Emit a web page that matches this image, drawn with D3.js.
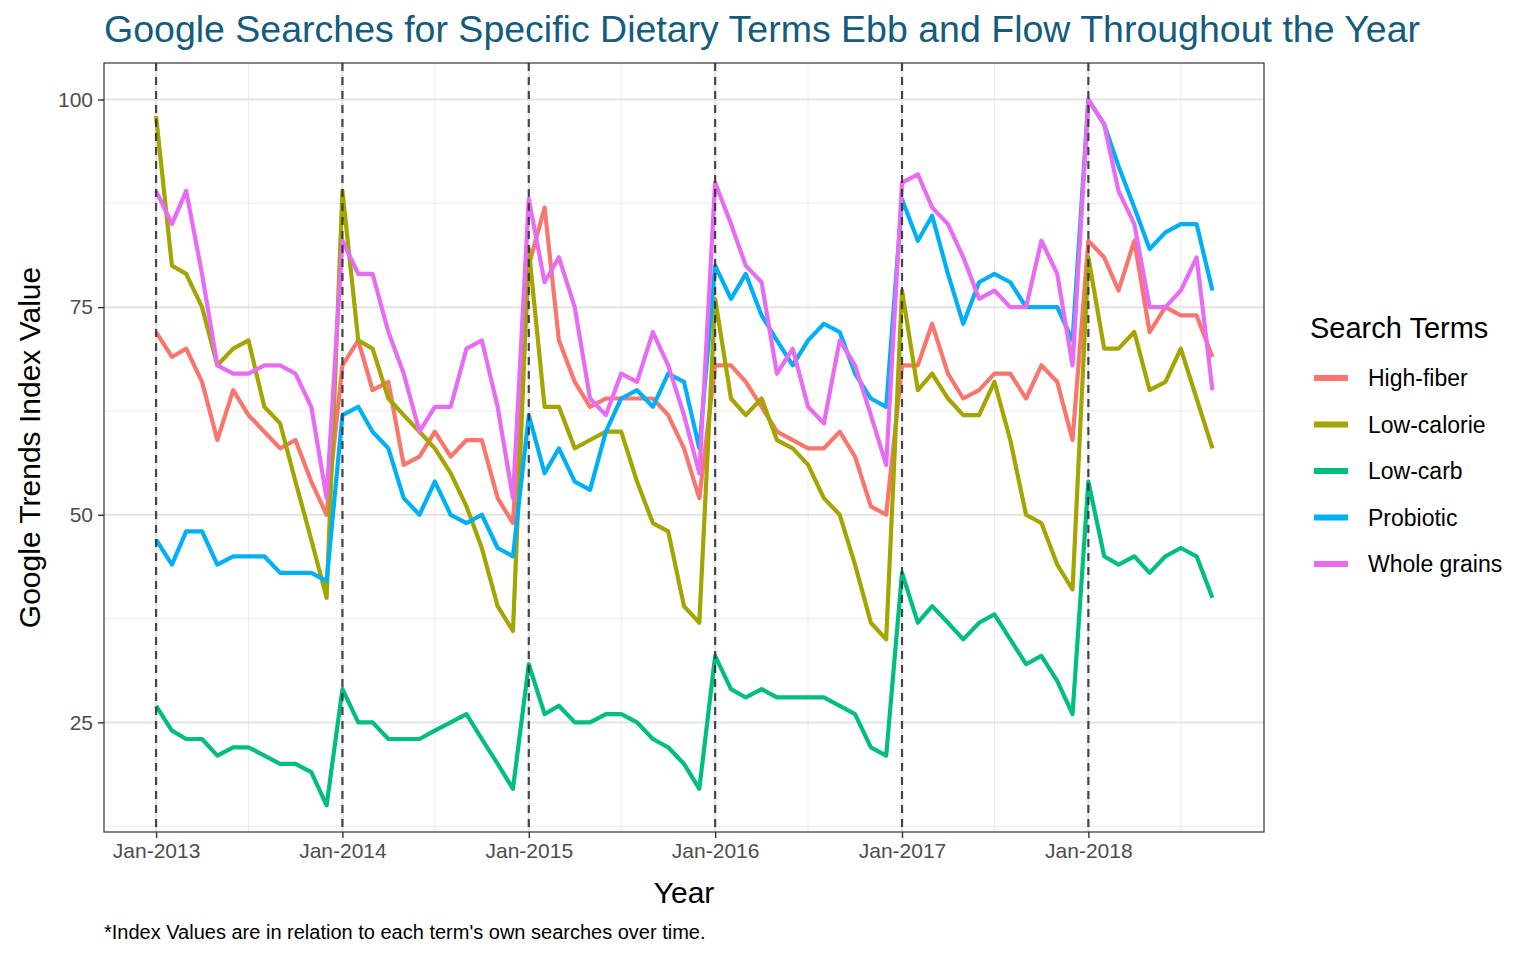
<!DOCTYPE html>
<html><head><meta charset="utf-8">
<script src="https://cdn.jsdelivr.net/npm/d3@7"></script>
<style>body{margin:0;background:#fff;font-family:"Liberation Sans",Arial,sans-serif;}</style>
</head><body><div id="chart"></div>
<script>
// monthly values Jan-2013 .. Sep-2018
const highFiber = [72,69,70,66,59,65,62,60,58,59,54,50, 68,71,65,66,56,57,60,57,59,59,52,49, 80,87,71,66,63,64,64,64,64,62,58,52, 68,68,66,63,60,59,58,58,60,57,51,50, 68,68,73,67,64,65,67,67,64,68,66,59, 83,81,77,83,72,75,74,74,69];
const lowCalorie = [98,80,79,75,68,70,71,63,61,54,47,40, 89,71,70,64,62,60,58,55,51,46,39,36, 82,63,63,58,59,60,60,54,49,48,39,37, 76,64,62,64,59,58,56,52,50,44,37,35, 77,65,67,64,62,62,66,59,50,49,44,41, 81,70,70,72,65,66,70,64,58];
const lowCarb = [27,24,23,23,21,22,22,21,20,20,19,15, 29,25,25,23,23,23,24,25,26,23,20,17, 32,26,27,25,25,26,26,25,23,22,20,17, 33,29,28,29,28,28,28,28,27,26,22,21, 43,37,39,37,35,37,38,35,32,33,30,26, 54,45,44,45,43,45,46,45,40];
const probiotic = [47,44,48,48,44,45,45,45,43,43,43,42, 62,63,60,58,52,50,54,50,49,50,46,45, 62,55,58,54,53,60,64,65,63,67,66,58, 80,76,79,74,71,68,71,73,72,67,64,63, 88,83,86,79,73,78,79,78,75,75,75,71, 100,97,92,87,82,84,85,85,77];
const wholeGrains = [89,85,89,79,68,67,67,68,68,67,63,52, 83,79,79,72,67,60,63,63,70,71,63,52, 88,78,81,75,64,62,67,66,72,68,62,55, 90,85,80,78,67,70,63,61,71,68,62,56, 90,91,87,85,81,76,77,75,75,83,79,68, 100,97,89,85,75,75,77,81,65];
const terms = ["High-fiber","Low-calorie","Low-carb","Probiotic","Whole grains"];
const colors = ["#F8766D","#A3A500","#00BF7D","#00B0F6","#E76BF3"];
const yTicks = [25,50,75,100];
const yearTicks = [2013,2014,2015,2016,2017,2018];

const seriesValues = [highFiber, lowCalorie, lowCarb, probiotic, wholeGrains];
const months = d3.range(highFiber.length).map(i => new Date(2013, i, 1));

const W = 1536, H = 960;
const m = {left:104, right:272, top:63, bottom:128};
const svg = d3.select("#chart").append("svg").attr("width", W).attr("height", H);

const x = d3.scaleTime()
    .domain([new Date(2012, 8, 21), new Date(2018, 11, 11)])
    .range([m.left, W - m.right]);
const y = d3.scaleLinear().domain([11.8, 104.4]).range([H - m.bottom, m.top]);

const g = svg.append("g");
// minor grid
const minorY = [12.5, 37.5, 62.5, 87.5];
g.selectAll(".my").data(minorY).join("line")
    .attr("x1", m.left).attr("x2", W - m.right)
    .attr("y1", d => y(d)).attr("y2", d => y(d))
    .attr("stroke", "#ebebeb").attr("stroke-width", 1);
const minorX = yearTicks.map(yr => new Date(yr, 6, 1));
g.selectAll(".mx").data(minorX).join("line")
    .attr("x1", d => x(d)).attr("x2", d => x(d))
    .attr("y1", m.top).attr("y2", H - m.bottom)
    .attr("stroke", "#ebebeb").attr("stroke-width", 1);
// major grid
g.selectAll(".gy").data(yTicks).join("line")
    .attr("x1", m.left).attr("x2", W - m.right)
    .attr("y1", d => y(d)).attr("y2", d => y(d))
    .attr("stroke", "#e3e3e3").attr("stroke-width", 2);
g.selectAll(".gx").data(yearTicks).join("line")
    .attr("x1", d => x(new Date(d,0,1))).attr("x2", d => x(new Date(d,0,1)))
    .attr("y1", m.top).attr("y2", H - m.bottom)
    .attr("stroke", "#e3e3e3").attr("stroke-width", 2);

// lines
const line = d3.line().x((d, i) => x(months[i])).y(d => y(d));
seriesValues.forEach((vals, k) => {
  g.append("path").datum(vals)
    .attr("d", line).attr("fill", "none")
    .attr("stroke", colors[k]).attr("stroke-width", 4.2)
    .attr("stroke-linejoin", "round");
});

// dashed January lines
g.selectAll(".vj").data(yearTicks).join("line")
    .attr("x1", d => x(new Date(d,0,1))).attr("x2", d => x(new Date(d,0,1)))
    .attr("y1", m.top).attr("y2", H - m.bottom)
    .attr("stroke", "#333").attr("stroke-opacity", 0.9)
    .attr("stroke-width", 2.2).attr("stroke-dasharray", "8,6");

// panel border
svg.append("rect").attr("x", m.left).attr("y", m.top)
    .attr("width", W - m.right - m.left).attr("height", H - m.bottom - m.top)
    .attr("fill", "none").attr("stroke", "#333").attr("stroke-width", 1.2);

// axes
const xAxis = d3.axisBottom(x)
    .tickValues(yearTicks.map(yr => new Date(yr, 0, 1)))
    .tickFormat(d3.timeFormat("%b-%Y")).tickSize(6).tickPadding(5);
const ax = svg.append("g").attr("transform", `translate(0,${H - m.bottom})`).call(xAxis);
const ay = svg.append("g").attr("transform", `translate(${m.left},0)`)
    .call(d3.axisLeft(y).tickValues(yTicks).tickSize(6).tickPadding(5));
[ax, ay].forEach(a => {
  a.select(".domain").remove();
  a.selectAll("line").attr("stroke", "#333").attr("stroke-width", 1.4);
  a.selectAll("text").attr("fill", "#4d4d4d").style("font-size", "21px")
    .style("font-family", "Liberation Sans, Arial, sans-serif");
});

// titles
svg.append("text").attr("x", 104).attr("y", 42)
    .attr("fill", "#135C7C").style("font-size", "37.5px")
    .text("Google Searches for Specific Dietary Terms Ebb and Flow Throughout the Year");
svg.append("text").attr("x", (m.left + W - m.right) / 2).attr("y", 903)
    .attr("text-anchor", "middle").style("font-size", "30px").text("Year");
svg.append("text").attr("transform", `translate(40,${(m.top + H - m.bottom) / 2}) rotate(-90)`)
    .attr("text-anchor", "middle").style("font-size", "30px").text("Google Trends Index Value");
svg.append("text").attr("x", 104).attr("y", 939).style("font-size", "20px")
    .text("*Index Values are in relation to each term's own searches over time.");

// legend
const lg = svg.append("g").attr("transform", "translate(1310,0)");
lg.append("text").attr("x", 0).attr("y", 338).style("font-size", "29px").text("Search Terms");
terms.forEach((t, i) => {
  const yy = 378 + i * 46.5;
  lg.append("line").attr("x1", 4).attr("x2", 38).attr("y1", yy).attr("y2", yy)
    .attr("stroke", colors[i]).attr("stroke-width", 6);
  lg.append("text").attr("x", 58).attr("y", yy + 8).style("font-size", "23px").text(t);
});
</script></body></html>
